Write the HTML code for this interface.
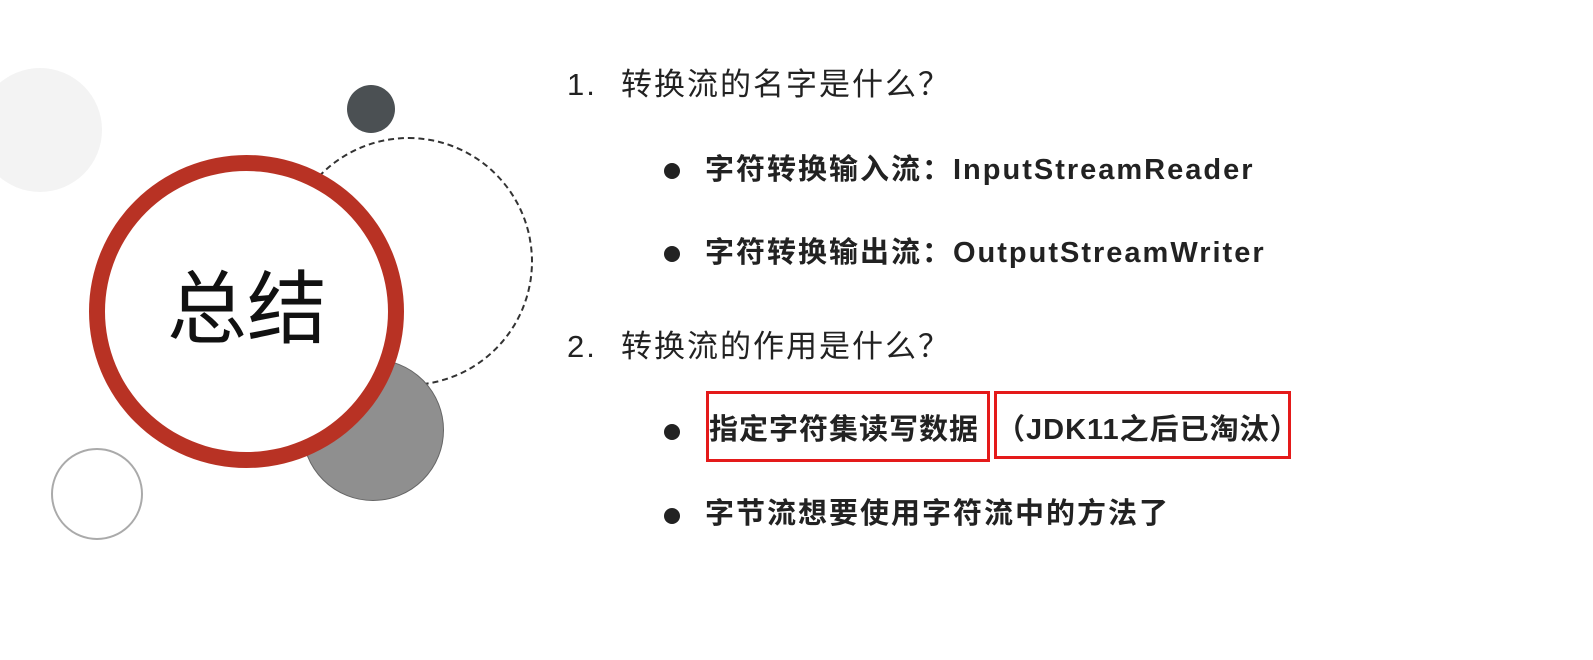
<!DOCTYPE html>
<html><head><meta charset="utf-8"><style>
body{margin:0;width:1593px;height:660px;background:#fff;position:relative;overflow:hidden;font-family:"Liberation Sans","Noto Sans CJK SC",sans-serif;color:#222}
.c{position:absolute;border-radius:50%;box-sizing:border-box}
.t{position:absolute;white-space:nowrap;line-height:1}
.h{font-size:31px;font-weight:normal;color:#222;letter-spacing:2px}
.b{font-size:29px;font-weight:bold;color:#222;letter-spacing:2px}
.dot{position:absolute;width:16px;height:16px;border-radius:50%;background:#222}
.box{position:absolute;border:3px solid #e41a1a;box-sizing:border-box}
</style></head><body>
<div class="c" style="left:-22px;top:68px;width:124px;height:124px;background:#f3f3f3"></div>
<div class="c" style="left:347px;top:85px;width:48px;height:48px;background:#4b5053"></div>
<div class="c" style="left:284px;top:137px;width:249px;height:249px;border:2px dashed #333"></div>
<div class="c" style="left:302px;top:359px;width:142px;height:142px;background:#8f8f8f;border:1px solid #666"></div>
<div class="c" style="left:89px;top:155px;width:315px;height:313px;background:#fff;border:16px solid #b83224"></div>
<div class="c" style="left:51px;top:448px;width:92px;height:92px;border:2px solid #aaa"></div>
<div class="t" style="left:167px;top:270px;font-size:80px;color:#111">总结</div>

<div class="t h" style="left:567px;top:69px">1.</div>
<div class="t h" style="left:621px;top:69px">转换流的名字是什么？</div>
<div class="dot" style="left:664px;top:163px"></div>
<div class="t b" style="left:705px;top:156px">字符转换输入流：InputStreamReader</div>
<div class="dot" style="left:664px;top:246px"></div>
<div class="t b" style="left:705px;top:239px">字符转换输出流：OutputStreamWriter</div>
<div class="t h" style="left:567px;top:331px">2.</div>
<div class="t h" style="left:621px;top:331px">转换流的作用是什么？</div>
<div class="dot" style="left:664px;top:424px"></div>
<div class="t b" style="left:709px;top:416px;letter-spacing:1px">指定字符集读写数据</div>
<div class="t b" style="left:996px;top:416px;letter-spacing:1px">（JDK11之后已淘汰）</div>
<div class="box" style="left:706px;top:391px;width:284px;height:71px"></div>
<div class="box" style="left:994px;top:391px;width:297px;height:68px"></div>
<div class="dot" style="left:664px;top:508px"></div>
<div class="t b" style="left:705px;top:500px">字节流想要使用字符流中的方法了</div>
</body></html>
